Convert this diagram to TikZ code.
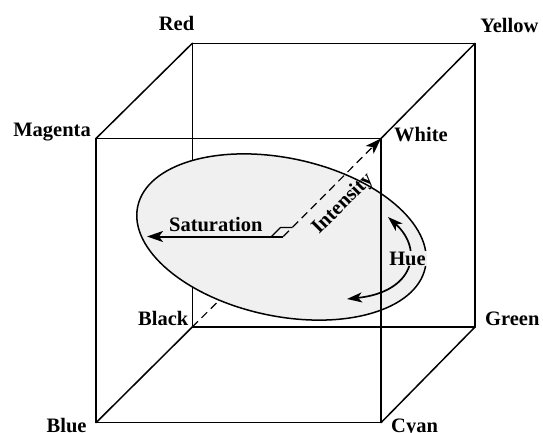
\documentclass[tikz,border=0pt]{standalone}
\usepackage{fontspec}
\setmainfont{Liberation Serif}
\usetikzlibrary{arrows.meta}
\tikzset{
  edge/.style={line width=1.5pt, line cap=round, line join=miter},
  lbl/.style={font=\fontsize{20.5}{21}\selectfont\bfseries, inner sep=0pt},
  axisdash/.style={line width=1.2pt, dash pattern=on 8pt off 5pt},
  disc/.style={draw=black, line width=1.5pt, fill=black!6},
  tip/.style={-{Stealth[length=16pt,width=11pt,inset=4pt]}},
  huetip/.style={{Stealth[length=15pt,width=10pt,inset=4pt]}-{Stealth[length=15pt,width=10pt,inset=4pt]}},
}
\begin{document}
\begin{tikzpicture}[x=1pt,y=-1pt]
\useasboundingbox (0,0) rectangle (543,433);
% cube corners
\coordinate (red) at (192.3,43.3);
\coordinate (yellow) at (475,43.3);
\coordinate (black) at (192.3,327);
\coordinate (green) at (475,327);
\coordinate (magenta) at (96,138.5);
\coordinate (white) at (381,138.5);
\coordinate (blue) at (96,422.7);
\coordinate (cyan) at (381,422.7);
\coordinate (O) at (283.3,236.5);
\coordinate (sattip) at (147,236.5);
\coordinate (m1) at (271.5,236.5);
\coordinate (m2) at (280.5,227.5);
\coordinate (m3) at (292.3,227.5);
\coordinate (hueA) at (388,217);
\coordinate (hueB) at (347,299);
% hidden back edges
\draw[edge] (black) -- (red);
\draw[edge] (black) -- (green);
\draw[edge] (black) -- (blue);
\draw[axisdash] (black) -- (O);
% disc
\draw[disc, rotate around={-12:(281.5,237)}] (281.5,237) ellipse [x radius=147pt, y radius=79pt];
% remaining edges
\draw[edge] (magenta) -- (white) -- (cyan) -- (blue) -- cycle;
\draw[edge] (red) -- (yellow) -- (green);
\draw[edge] (magenta) -- (red);
\draw[edge] (white) -- (yellow);
\draw[edge] (cyan) -- (green);
% intensity axis
\draw[axisdash, tip] (O) -- (white);
% saturation
\draw[line width=2pt, tip] (O) -- (sattip);
\draw[line width=1.1pt] (m1) -- (m2) -- (m3);
% hue
\draw[line width=1.7pt, huetip]
  (hueA) .. controls (424,250) and (414,292) .. (hueB);
% labels
\node[lbl, anchor=base] (tRed) at (176.5,30.7) {Red};
\node[lbl, anchor=base] (tYellow) at (509.3,32.3) {Yellow};
\node[lbl, anchor=base east] (tMagenta) at (91,136.7) {Magenta};
\node[lbl, anchor=base west] (tWhite) at (394,141.7) {White};
\node[lbl, anchor=base east] (tBlack) at (188.5,325) {Black};
\node[lbl, anchor=base west] (tGreen) at (485,325.7) {Green};
\node[lbl, anchor=base east] (tBlue) at (86.7,432) {Blue};
\node[lbl, anchor=base west] (tCyan) at (391,432) {Cyan};
\node[lbl, anchor=base] (tSat) at (215.8,231) {Saturation};
\node[lbl, rotate=45] (tInt) at (343,204) {Intensity};
\node[lbl, anchor=base, fill=black!6, inner xsep=1pt, inner ysep=1pt] (tHue) at (407.5,265) {Hue};
\end{tikzpicture}
\end{document}
